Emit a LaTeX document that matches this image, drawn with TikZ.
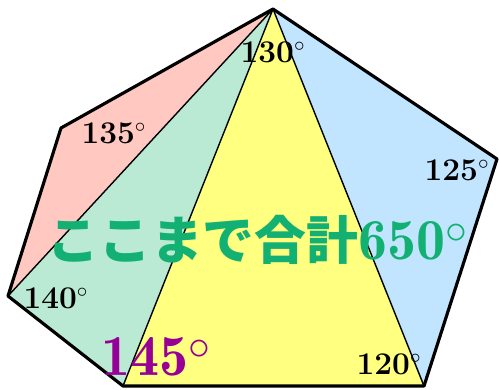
\documentclass[tikz,border=0pt]{standalone}
\usepackage{fontspec}
\newfontfamily\jpfont{Noto Sans CJK JP}
\newfontfamily\demifont{lmromandemi10-regular.otf}
\definecolor{pinkpart}{RGB}{255,201,193}
\definecolor{mintpart}{RGB}{186,234,212}
\definecolor{yellowpart}{RGB}{255,255,128}
\definecolor{bluepart}{RGB}{193,228,255}
\definecolor{sumgreen}{RGB}{18,176,114}
\definecolor{anglepurple}{RGB}{150,0,150}
\tikzset{
  anglelabel/.style={font=\fontsize{18}{18}\selectfont\bfseries, inner sep=0pt},
  biglabel/.style={font=\fontsize{33}{33}\selectfont\demifont, inner sep=0pt, anchor=base west},
  diagonal/.style={line width=0.8pt},
  outline/.style={line width=1.8pt, line join=round}
}
\begin{document}
\begin{tikzpicture}[x=0.02cm,y=-0.02cm]
    \useasboundingbox (0,0) rectangle (499,389);
    % vertices of the hexagon
    \coordinate (A) at (273,9);
    \coordinate (B) at (61,128);
    \coordinate (C) at (8,296);
    \coordinate (D) at (123,386);
    \coordinate (E) at (424,386);
    \coordinate (F) at (497,159);

    \fill[pinkpart] (A) -- (B) -- (C) -- cycle;
    \fill[mintpart] (A) -- (C) -- (D) -- cycle;
    \fill[yellowpart] (A) -- (D) -- (E) -- cycle;
    \fill[bluepart] (A) -- (E) -- (F) -- cycle;

    \draw[diagonal] (A) -- (C) (A) -- (D) (A) -- (E);
    \draw[outline] (A) -- (B) -- (C) -- (D) -- (E) -- (F) -- cycle;

    \node[anglelabel] (a130) at (273,52) {130$^\circ$};
    \node[anglelabel] (a135) at (114,133) {135$^\circ$};
    \node[anglelabel] (a140) at (56,298) {140$^\circ$};
    \node[anglelabel] (a120) at (389,364) {120$^\circ$};
    \node[anglelabel] (a125) at (457,170) {125$^\circ$};
    \node[biglabel, text=anglepurple] (a145) at (101,375) {145$^\circ$};

    \node[biglabel, text=sumgreen] (total) at (47,259)
        {{\fontsize{29.5}{29.5}\selectfont\jpfont\bfseries ここまで合計}650$^\circ$};
\end{tikzpicture}
\end{document}
